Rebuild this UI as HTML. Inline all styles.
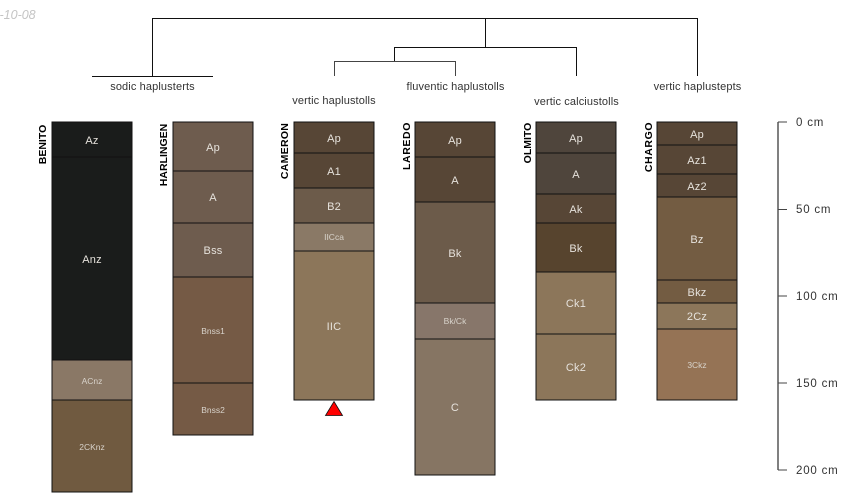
<!DOCTYPE html>
<html><head><meta charset="utf-8"><style>
html,body{margin:0;padding:0;background:#fff;width:850px;height:500px;overflow:hidden}
svg{display:block}
text{font-family:"Liberation Sans",sans-serif}
.h{fill:#e6e2dc;font-size:11px;letter-spacing:.2px;text-anchor:middle}
.s{fill:#d8d3cb;font-size:8.5px;text-anchor:middle}
.t{fill:#333;font-size:11px;letter-spacing:.12px;text-anchor:middle}
.n{fill:#000;font-size:10.5px;font-weight:bold;text-anchor:middle}
.d{fill:#333;font-size:11.5px;letter-spacing:.8px}
rect{stroke:#111;stroke-width:1.2;shape-rendering:crispEdges}
</style></head><body>
<svg width="850" height="500" viewBox="0 0 850 500" xmlns="http://www.w3.org/2000/svg">
<text x="-0.5" y="19" font-size="12.5" font-style="italic" fill="#c4c4c4">-10-08</text>
<g fill="none" stroke="#111" stroke-width="1" shape-rendering="crispEdges">
<path d="M92 76.500H213M152.500 76V18.500H697.500V76M485.500 18V47.500M394.500 47.500H576.500V76M394.500 47V61.500"/>
<path d="M334.500 76V61.500H455.500V76" stroke="#444"/>
</g>
<text class="t" x="152.500" y="90">sodic haplusterts</text>
<text class="t" x="334" y="104">vertic haplustolls</text>
<text class="t" x="455.500" y="90">fluventic haplustolls</text>
<text class="t" x="576.500" y="105">vertic calciustolls</text>
<text class="t" x="697.500" y="90">vertic haplustepts</text>

<rect x="52" y="122" width="80" height="35" fill="#1a1c1b"/>
<rect x="52" y="157" width="80" height="203" fill="#1a1c1b"/>
<rect x="52" y="360" width="80" height="40" fill="#8a7866"/>
<rect x="52" y="400" width="80" height="92" fill="#705a40"/>
<text class="h" x="92" y="144">Az</text><text class="h" x="92" y="263">Anz</text>
<text class="s" x="92" y="384">ACnz</text><text class="s" x="92" y="450">2CKnz</text>
<text class="n" transform="translate(46 144.500) rotate(-90)" x="0" y="0">BENITO</text>

<rect x="173" y="122" width="80" height="49" fill="#6e5c4e"/>
<rect x="173" y="171" width="80" height="52" fill="#6e5c4e"/>
<rect x="173" y="223" width="80" height="54" fill="#6e5c4e"/>
<rect x="173" y="277" width="80" height="106" fill="#755a45"/>
<rect x="173" y="383" width="80" height="52" fill="#755a45"/>
<text class="h" x="213" y="151">Ap</text><text class="h" x="213" y="201">A</text>
<text class="h" x="213" y="254">Bss</text><text class="s" x="213" y="334">Bnss1</text><text class="s" x="213" y="413">Bnss2</text>
<text class="n" transform="translate(167 155) rotate(-90)" x="0" y="0">HARLINGEN</text>

<rect x="294" y="122" width="80" height="31" fill="#574636"/>
<rect x="294" y="153" width="80" height="35" fill="#574636"/>
<rect x="294" y="188" width="80" height="35" fill="#6c5b4a"/>
<rect x="294" y="223" width="80" height="28" fill="#8a7966"/>
<rect x="294" y="251" width="80" height="149" fill="#8c765a"/>
<text class="h" x="334" y="142">Ap</text><text class="h" x="334" y="175">A1</text>
<text class="h" x="334" y="210">B2</text><text class="s" x="334" y="240">IICca</text><text class="h" x="334" y="330">IIC</text>
<text class="n" transform="translate(288 151) rotate(-90)" x="0" y="0" letter-spacing=".3">CAMERON</text>
<polygon points="334,401.500 342.500,415.500 325.500,415.500" fill="#f00" stroke="#111" stroke-width="0.800"/>

<rect x="415" y="122" width="80" height="35" fill="#574636"/>
<rect x="415" y="157" width="80" height="45" fill="#574636"/>
<rect x="415" y="202" width="80" height="101" fill="#6c5b4a"/>
<rect x="415" y="303" width="80" height="36" fill="#87766a"/>
<rect x="415" y="339" width="80" height="136" fill="#867563"/>
<text class="h" x="455" y="144">Ap</text><text class="h" x="455" y="184">A</text>
<text class="h" x="455" y="257">Bk</text><text class="s" x="455" y="324">Bk/Ck</text><text class="h" x="455" y="411">C</text>
<text class="n" transform="translate(410 146) rotate(-90)" x="0" y="0" letter-spacing=".6">LAREDO</text>

<rect x="536" y="122" width="80" height="31" fill="#4f453c"/>
<rect x="536" y="153" width="80" height="41" fill="#4f453c"/>
<rect x="536" y="194" width="80" height="29" fill="#574636"/>
<rect x="536" y="223" width="80" height="49" fill="#57442e"/>
<rect x="536" y="272" width="80" height="62" fill="#8c765a"/>
<rect x="536" y="334" width="80" height="66" fill="#8c765a"/>
<text class="h" x="576" y="142">Ap</text><text class="h" x="576" y="178">A</text>
<text class="h" x="576" y="213">Ak</text><text class="h" x="576" y="252">Bk</text>
<text class="h" x="576" y="307">Ck1</text><text class="h" x="576" y="371">Ck2</text>
<text class="n" transform="translate(531 143) rotate(-90)" x="0" y="0">OLMITO</text>

<rect x="657" y="122" width="80" height="23" fill="#574636"/>
<rect x="657" y="145" width="80" height="29" fill="#574636"/>
<rect x="657" y="174" width="80" height="23" fill="#574636"/>
<rect x="657" y="197" width="80" height="83" fill="#735c42"/>
<rect x="657" y="280" width="80" height="23" fill="#735c42"/>
<rect x="657" y="303" width="80" height="26" fill="#8c765a"/>
<rect x="657" y="329" width="80" height="71" fill="#957355"/>
<text class="h" x="697" y="138">Ap</text><text class="h" x="697" y="164">Az1</text>
<text class="h" x="697" y="190">Az2</text><text class="h" x="697" y="243">Bz</text>
<text class="h" x="697" y="296">Bkz</text><text class="h" x="697" y="320">2Cz</text><text class="s" x="697" y="368">3Ckz</text>
<text class="n" transform="translate(652 147) rotate(-90)" x="0" y="0" letter-spacing=".6">CHARGO</text>

<g shape-rendering="crispEdges">
<path d="M778 122V470" stroke="#808080" stroke-width="2" fill="none"/>
<path d="M778 122H787M778 209.500H787M778 296H787M778 383H787M778 470H787" stroke="#444" stroke-width="1" fill="none"/>
</g>
<text class="d" x="796" y="126">0 cm</text>
<text class="d" x="796" y="213">50 cm</text>
<text class="d" x="796" y="300">100 cm</text>
<text class="d" x="796" y="387">150 cm</text>
<text class="d" x="796" y="474">200 cm</text>
</svg>
</body></html>
